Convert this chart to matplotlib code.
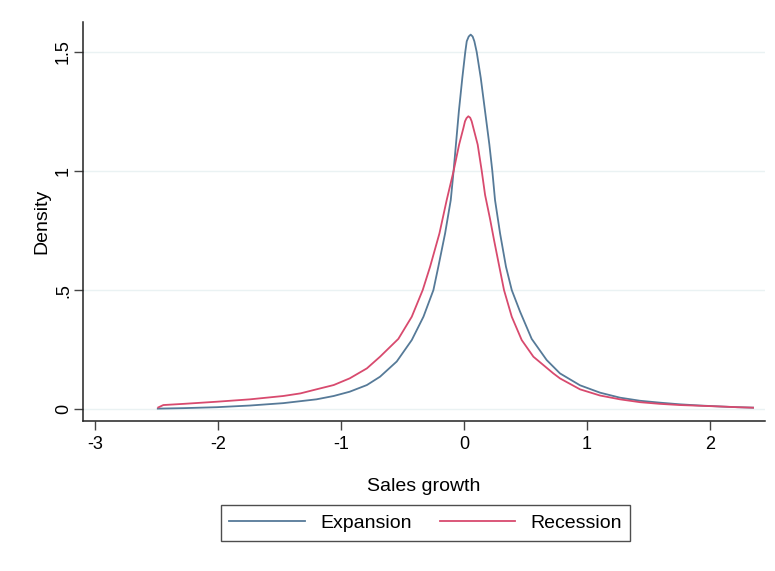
import matplotlib.pyplot as plt

# kernel density curves
exp_x = [-2.49, -2.28, -2.01, -1.74, -1.47, -1.20, -1.06, -0.93, -0.79, -0.683,
         -0.547, -0.425, -0.33, -0.249, -0.209, -0.154, -0.108, -0.085, -0.066,
         -0.042, -0.014, 0.01, 0.022, 0.038, 0.054, 0.07, 0.084, 0.103, 0.136,
         0.171, 0.206, 0.23, 0.252, 0.293, 0.341, 0.388, 0.455, 0.55, 0.672,
         0.78, 0.943, 1.106, 1.268, 1.431, 1.593, 1.756, 1.919, 2.08, 2.22, 2.35]
exp_y = [0.002, 0.004, 0.008, 0.015, 0.025, 0.041, 0.055, 0.073, 0.101, 0.136,
         0.200, 0.290, 0.388, 0.500, 0.598, 0.738, 0.878, 1.000, 1.111,
         1.251, 1.391, 1.500, 1.545, 1.565, 1.573, 1.565, 1.545, 1.500, 1.391,
         1.251, 1.111, 1.000, 0.878, 0.738, 0.598, 0.500, 0.410, 0.295, 0.206,
         0.150, 0.100, 0.069, 0.048, 0.035, 0.027, 0.020, 0.015, 0.011, 0.008, 0.006]

rec_x = [-2.486, -2.445, -2.28, -2.01, -1.74, -1.47, -1.33, -1.20, -1.06, -0.93,
         -0.79, -0.683, -0.534, -0.425, -0.336, -0.276, -0.20, -0.141, -0.085,
         -0.04, -0.005, 0.008, 0.02, 0.035, 0.05, 0.062, 0.076, 0.111, 0.144,
         0.171, 0.211, 0.244, 0.287, 0.325, 0.388, 0.469, 0.564, 0.726, 0.78,
         0.943, 1.106, 1.268, 1.431, 1.593, 1.756, 1.919, 2.08, 2.22, 2.35]
rec_y = [0.007, 0.017, 0.022, 0.031, 0.041, 0.055, 0.066, 0.083, 0.101, 0.129,
         0.171, 0.220, 0.295, 0.388, 0.500, 0.598, 0.738, 0.878, 1.000,
         1.111, 1.181, 1.209, 1.222, 1.230, 1.224, 1.209, 1.181, 1.111, 1.000,
         0.900, 0.800, 0.710, 0.598, 0.500, 0.388, 0.290, 0.220, 0.150, 0.129,
         0.083, 0.057, 0.041, 0.029, 0.022, 0.017, 0.014, 0.011, 0.008, 0.006]

xticks = [-3, -2, -1, 0, 1, 2]
yticks = [0, 0.5, 1, 1.5]
ytick_labels = ['0', '.5', '1', '1.5']

plt.rcParams['font.family'] = ['Liberation Sans', 'DejaVu Sans']

fig = plt.figure(figsize=(7.75, 5.71), dpi=100)
ax = fig.add_axes([83 / 775, 1 - 421 / 571, (765 - 83) / 775, (421 - 22) / 571])

# light horizontal grid
for y in yticks:
    ax.axhline(y, color='#eaf2f3', lw=1.0, zorder=0)

ax.plot(exp_x, exp_y, color='#567a98', lw=1.3, label='Expansion')
ax.plot(rec_x, rec_y, color='#d84a6e', lw=1.3, label='Recession')

ax.set_xlim(-3.098, 2.447)
ax.set_ylim(-0.05, 1.626)
ax.set_xticks(xticks)
ax.set_xticklabels([str(t) for t in xticks])
ax.set_yticks(yticks)
ax.set_yticklabels(ytick_labels, rotation=90, va='center')

for s in ['top', 'right']:
    ax.spines[s].set_visible(False)
for s in ['left', 'bottom']:
    ax.spines[s].set_color('#222222')
    ax.spines[s].set_linewidth(1.1)

ax.tick_params(direction='out', length=6.5, width=1.0, color='#444444',
               labelsize=13)
ax.tick_params(axis='x', pad=4.5)
ax.tick_params(axis='y', pad=1.5)
ax.set_xlabel('Sales growth', fontsize=14, labelpad=18)
ax.set_ylabel('Density', fontsize=14, labelpad=3)

leg = fig.legend(loc='center', bbox_to_anchor=(425.5 / 775, 1 - 523 / 571),
                 ncol=2, fontsize=14, frameon=True, fancybox=False,
                 edgecolor='#222222', handlelength=3.9, handletextpad=0.75,
                 columnspacing=1.45, borderpad=0.45, borderaxespad=0.2)
leg.get_frame().set_linewidth(1.0)

fig.savefig('out.png', dpi=100)
